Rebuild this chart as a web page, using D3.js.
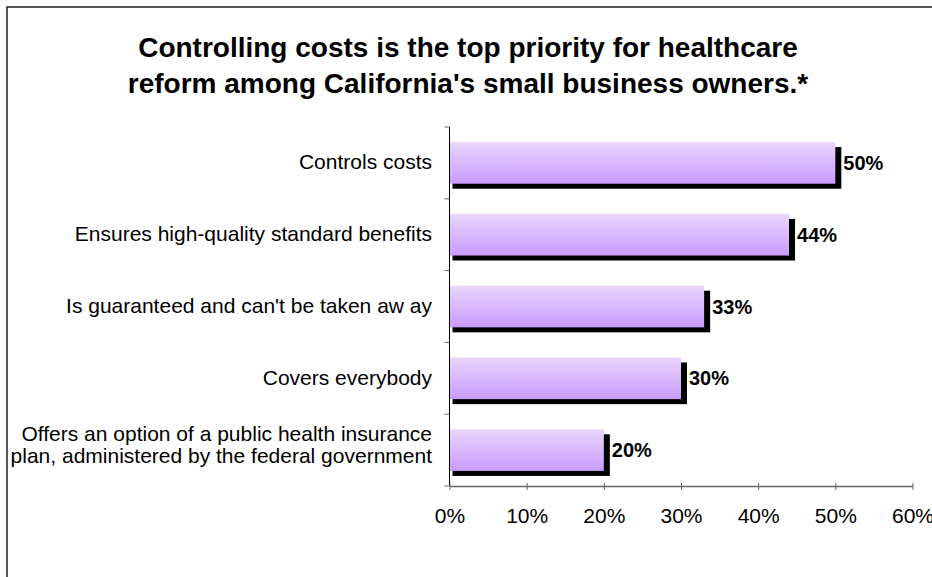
<!DOCTYPE html>
<html>
<head>
<meta charset="utf-8">
<script src="https://cdn.jsdelivr.net/npm/d3@7"></script>
<style>
  body { margin: 0; background: #fff; }
  svg { display: block; font-family: Arial, "Liberation Sans", sans-serif; }
</style>
</head>
<body>
<svg width="932" height="577"></svg>
<script>
const categories = [
  'Controls costs',
  'Ensures high-quality standard benefits',
  "Is guaranteed and can't be taken aw ay",
  'Covers everybody',
  'Offers an option of a public health insurance|plan, administered by the federal government'
];
const values = [50, 44, 33, 30, 20];
const tickValues = [0, 10, 20, 30, 40, 50, 60];
const titleLines = [
  'Controlling costs is the top priority for healthcare',
  "reform among California's small business owners.*"
];

const svg = d3.select('svg');
const width = +svg.attr('width');
const height = +svg.attr('height');

// outer frame (runs off the right and bottom edges)
svg.append('rect')
  .attr('x', 7).attr('y', 7)
  .attr('width', 940).attr('height', 600)
  .attr('fill', 'none')
  .attr('stroke', '#222')
  .attr('stroke-width', 1.5);

const defs = svg.append('defs');
const grad = defs.append('linearGradient')
  .attr('id', 'barGrad')
  .attr('x1', 0).attr('y1', 0).attr('x2', 0).attr('y2', 1);
grad.append('stop').attr('offset', '0%').attr('stop-color', '#e9d5fd');
grad.append('stop').attr('offset', '100%').attr('stop-color', '#c99cfc');

const x = d3.scaleLinear().domain([0, 60]).range([449.5, 912.5]);
const y = d3.scaleBand().domain(categories).range([127, 486]).paddingInner(0.42).paddingOuter(0.21);

// title
svg.append('g').selectAll('text')
  .data(titleLines)
  .enter().append('text')
  .attr('x', 468)
  .attr('y', (d, i) => 57 + i * 36)
  .attr('text-anchor', 'middle')
  .attr('font-weight', 'bold')
  .attr('font-size', '28px')
  .attr('fill', '#000')
  .text(d => d);

const data = categories.map((c, i) => ({ cat: c, val: values[i] }));

// shadows
svg.append('g').selectAll('rect')
  .data(data)
  .enter().append('rect')
  .attr('x', x(0) + 3)
  .attr('y', d => y(d.cat) + 5)
  .attr('width', d => x(d.val) - x(0) + 3)
  .attr('height', y.bandwidth())
  .attr('fill', '#000');

// bars
svg.append('g').selectAll('rect')
  .data(data)
  .enter().append('rect')
  .attr('x', x(0))
  .attr('y', d => y(d.cat))
  .attr('width', d => x(d.val) - x(0))
  .attr('height', y.bandwidth())
  .attr('fill', 'url(#barGrad)');

// value labels
svg.append('g').selectAll('text')
  .data(data)
  .enter().append('text')
  .attr('x', d => x(d.val) + 8)
  .attr('y', d => y(d.cat) + y.bandwidth() / 2 + 7)
  .attr('font-weight', 'bold')
  .attr('font-size', '20px')
  .text(d => d.val + '%');

// y axis
const yAxisG = svg.append('g').attr('transform', `translate(${x(0)},0)`);
yAxisG.append('line')
  .attr('x1', 0).attr('x2', 0)
  .attr('y1', 127).attr('y2', 486)
  .attr('stroke', '#000');
const yTicks = d3.range(categories.length + 1).map(i => 127 + i * (486 - 127) / categories.length);
yAxisG.selectAll('.yt')
  .data(yTicks)
  .enter().append('line')
  .attr('x1', -5).attr('x2', 0)
  .attr('y1', d => d).attr('y2', d => d)
  .attr('stroke', '#666');

// category labels
const catLabels = svg.append('g').selectAll('text')
  .data(data)
  .enter().append('text')
  .attr('text-anchor', 'end')
  .attr('font-size', '21px')
  .attr('fill', '#000');
catLabels.each(function(d) {
  const lines = d.cat.split('|');
  const cy = y(d.cat) + y.bandwidth() / 2;
  const t = d3.select(this);
  lines.forEach((l, i) => {
    const off = lines.length === 1 ? 6.5 : (i === 0 ? -9 : 13);
    t.append('tspan')
      .attr('x', 432)
      .attr('y', cy + off)
      .text(l);
  });
});

// x axis
const xAxis = d3.axisBottom(x)
  .tickValues(tickValues)
  .tickFormat(d => d + '%')
  .tickSize(6)
  .tickSizeOuter(0);
const xg = svg.append('g')
  .attr('transform', 'translate(0,486)')
  .call(xAxis);
xg.select('.domain').attr('stroke', '#666').attr('stroke-width', 1.5);
xg.selectAll('.tick line').attr('stroke', '#666').attr('y1', -3).attr('y2', 4);
xg.selectAll('.tick text')
  .attr('font-size', '21px')
  .attr('font-family', 'Arial, "Liberation Sans", sans-serif')
  .attr('fill', '#000')
  .attr('dy', 0)
  .attr('y', 37);
</script>
</body>
</html>
